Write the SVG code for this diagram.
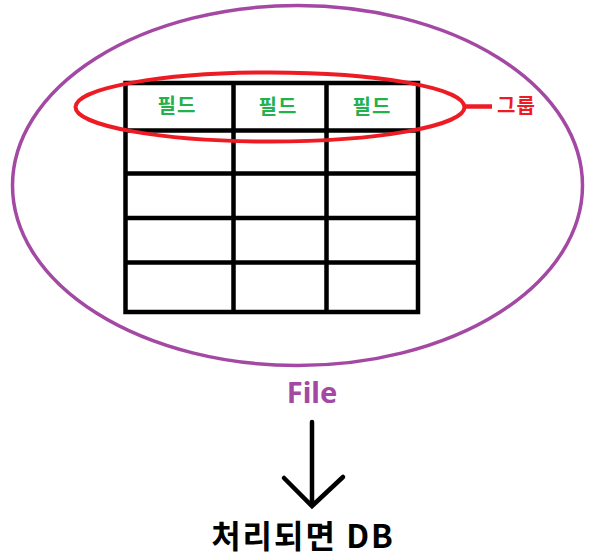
<svg xmlns="http://www.w3.org/2000/svg" width="592" height="558" viewBox="0 0 592 558">
<style>
.grid{stroke:#000;stroke-width:4.5;fill:none}
.fld{font-family:"Noto Sans CJK KR","Noto Sans",sans-serif;font-weight:bold;font-size:20px;fill:#22B14C;text-anchor:middle;letter-spacing:1px}
</style>
<rect width="592" height="558" fill="#fff"/>
<g id="file">
<ellipse cx="297.5" cy="185.5" rx="285" ry="180" fill="none" stroke="#A349A4" stroke-width="3.5"/>
<text x="312" y="403" font-family="'Noto Sans','Noto Sans CJK KR',sans-serif" font-weight="bold" font-size="29" fill="#A349A4" text-anchor="middle">File</text>
</g>
<g id="table">
<rect class="grid" x="125.5" y="83" width="292.5" height="229"/>
<path class="grid" d="M233.5 83V312M326.5 83V312M125.5 130.5H418M125.5 173.5H418M125.5 218H418M125.5 262.5H418"/>
<text class="fld" x="177" y="113">필드</text>
<text class="fld" x="278" y="114">필드</text>
<text class="fld" x="372" y="114">필드</text>
</g>
<g id="group">
<ellipse cx="270" cy="107" rx="194.5" ry="34.5" fill="none" stroke="#ED1C24" stroke-width="4"/>
<text x="497" y="113" font-family="'Noto Sans CJK KR',sans-serif" font-weight="bold" font-size="20" fill="#ED1C24" letter-spacing="1">그룹</text>
</g>
<g id="connectors">
<path d="M465 106.5H492" stroke="#ED1C24" stroke-width="4.5" fill="none"/>
<path d="M312 422V506M284 478L312 506L343 477" stroke="#000" stroke-width="4.5" fill="none" stroke-linecap="round" stroke-linejoin="miter"/>
</g>
<g id="db">
<text x="303" y="548" font-family="'Noto Sans CJK KR',sans-serif" font-weight="bold" font-size="32" fill="#000" text-anchor="middle" letter-spacing="2">처리되면 DB</text>
</g>
</svg>
